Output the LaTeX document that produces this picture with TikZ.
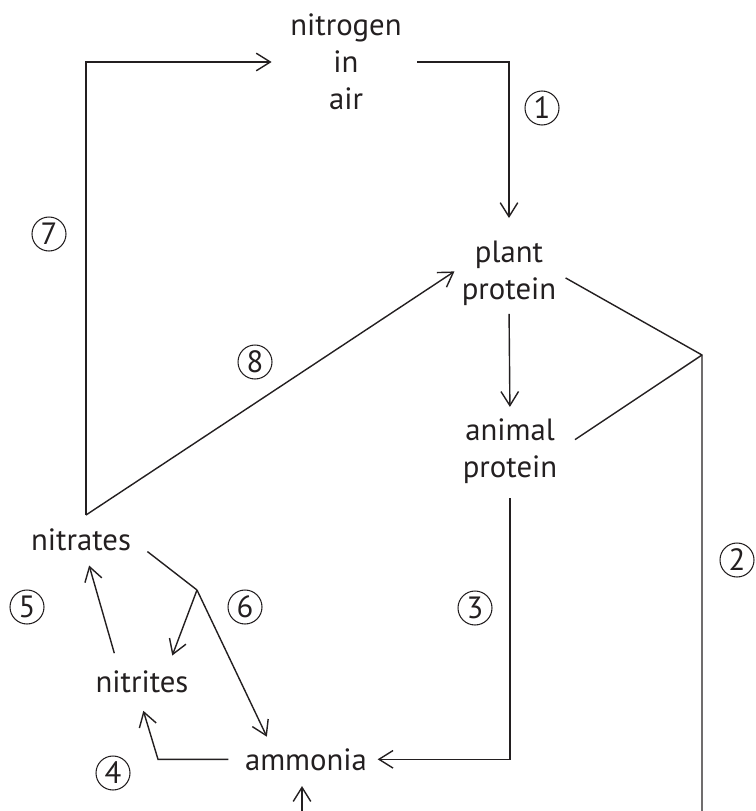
\documentclass[tikz,border=0pt]{standalone}
\usepackage{fontspec}
\setmainfont{PT Sans}
\usetikzlibrary{arrows.meta}
\definecolor{ink}{HTML}{231F20}

\begin{document}
\begin{tikzpicture}[x=0.02cm, y=-0.02cm, >={Straight Barb[length=8pt,width=10pt]}, line width=0.8pt, color=ink,
	stage/.style={align=center, inner sep=0pt, font=\fontsize{17.5}{21}\selectfont},
	num/.style={circle, draw, line width=0.6pt, inner sep=0pt, minimum size=0.68cm, font=\fontsize{17.5}{21}\selectfont}]
			\useasboundingbox (0,0) rectangle (755,811);

			% Stages of the cycle
			\node[stage] (air) at (346,62) {nitrogen\\in\\air};
			\node[stage] (plant) at (509,273) {plant\\protein};
			\node[stage] (animal) at (510,451) {animal\\protein};
			\node[stage, anchor=base] (nitrates) at (81,550) {nitrates};
			\node[stage, anchor=base] (nitrites) at (142,692) {nitrites};
			\node[stage, anchor=base] (ammonia) at (306,770) {ammonia};

			% Corners and loose ends
			\coordinate (top7) at (86,515);
			\coordinate (split2) at (702,355);
			\coordinate (split6) at (197,590);
			\coordinate (bend4) at (158,763);
			\coordinate (out2) at (702,811);
			\coordinate (in0) at (302,811);

			% Process numbers
			\foreach \n/\x/\y in {1/542/108, 2/737/560, 3/475/608, 4/113/773, 5/27/607, 6/245/607, 7/49/234, 8/255/362}
				\node[num] (n\n) at (\x,\y) {\n};

			% Arrows
			\draw[->, shorten <=0.3cm, shorten >=0.44cm] (air.east) -| (plant.north);
			\draw[->, shorten >=0.36cm] (top7) |- (air.west);
			\draw[->, shorten >=0.16cm] (top7) -- ([yshift=0.12cm]plant.west);
			\draw[shorten <=0.2cm] (plant.east) -- (split2) -- (out2);
			\draw[shorten <=0.41cm] (animal.east) -- (split2);
			\draw[->, shorten <=0.16cm, shorten >=0.22cm] (plant.south) -- (animal.north);
			\draw[->, shorten <=0.28cm, shorten >=0.2cm] (animal.south) |- (ammonia.east);
			\draw[->, shorten <=0.32cm, shorten >=0.37cm] (ammonia.west) -- (ammonia.west -| bend4) -- ([xshift=-0.08cm]nitrites.south);
			\draw[->, shorten <=0.34cm, shorten >=0.3cm] ([xshift=-0.46cm]nitrites.north) -- ([xshift=0.08cm]nitrates.south);
			\draw[shorten <=0.4cm] (nitrates.east) -- (split6);
			\draw[->, shorten >=0.3cm] (split6) -- ([xshift=0.5cm]nitrites.north);
			\draw[->, shorten >=0.24cm] (split6) -- ([xshift=-0.68cm]ammonia.north);
			\draw[->, shorten >=0.3cm] (in0) -- (in0 |- ammonia.south);

		\end{tikzpicture}
\end{document}
